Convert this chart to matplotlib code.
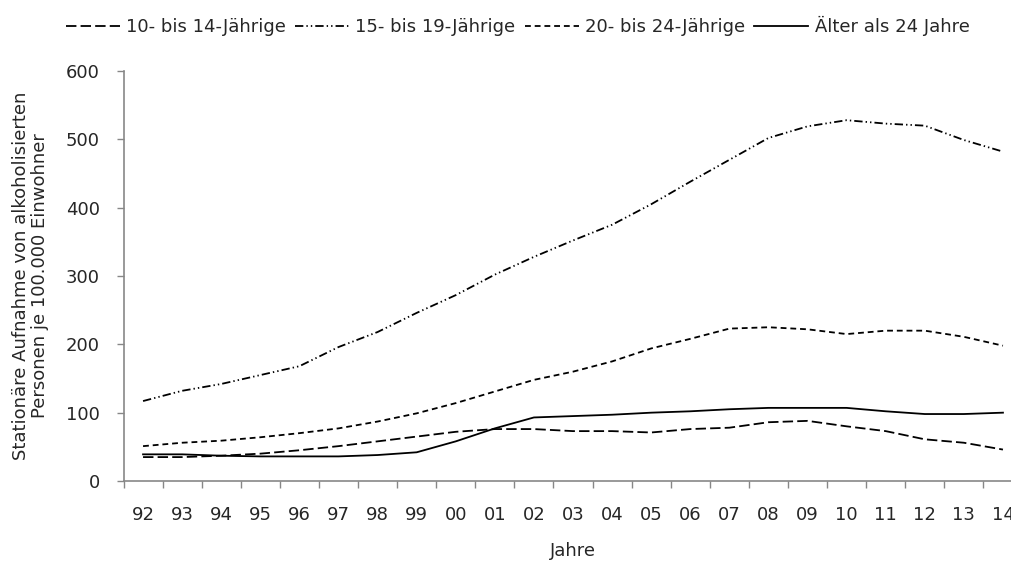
import matplotlib
matplotlib.use("Agg")
import matplotlib.pyplot as plt

plt.rcParams['font.family'] = ['DejaVu Sans']
plt.rcParams['lines.scale_dashes'] = False

years = ["92", "93", "94", "95", "96", "97", "98", "99", "00", "01", "02", "03",
         "04", "05", "06", "07", "08", "09", "10", "11", "12", "13", "14"]
age_10_14 = [35, 35, 37, 40, 45, 51, 58, 65, 72, 76, 76, 73, 73, 71, 76, 78, 86, 88, 80, 73, 61, 56, 46]
age_15_19 = [117, 132, 142, 155, 168, 196, 218, 246, 272, 302, 328, 352, 375, 405, 438, 470, 502, 519, 528, 523, 520, 499, 482]
age_20_24 = [51, 56, 59, 64, 70, 77, 87, 99, 114, 131, 148, 160, 175, 194, 208, 223, 225, 222, 215, 220, 220, 211, 198]
age_over_24 = [39, 39, 37, 36, 36, 36, 38, 42, 58, 77, 93, 95, 97, 100, 102, 105, 107, 107, 107, 102, 98, 98, 100]

series_labels = ["10- bis 14-Jährige", "15- bis 19-Jährige", "20- bis 24-Jährige", "Älter als 24 Jahre"]

text_color = '#262626'
axis_color = '#878787'

fig = plt.figure(figsize=(10.11, 5.62), dpi=100)
ax = fig.add_axes([123.5 / 1011, 81 / 562, 899 / 1011, 410 / 562])

x = list(range(len(years)))
lw = 1.3
ax.plot(x, age_10_14, color='black', lw=lw, dashes=(7.5, 3.0), label=series_labels[0])
ax.plot(x, age_15_19, color='black', lw=lw, dashes=(6.0, 2.2, 1.0, 2.2, 1.0, 2.2), label=series_labels[1])
ax.plot(x, age_20_24, color='black', lw=lw, dashes=(4.2, 2.8), label=series_labels[2])
ax.plot(x, age_over_24, color='black', lw=lw, label=series_labels[3])

ax.set_xlim(-0.5, len(years) - 0.5)
ax.set_ylim(0, 600)
ax.set_yticks([0, 100, 200, 300, 400, 500, 600])

ax.set_xticks([i - 0.5 for i in range(len(years) + 1)])
ax.set_xticklabels([])
ax.set_xticks(x, minor=True)
ax.set_xticklabels(years, minor=True)
ax.tick_params(axis='x', which='minor', length=0, pad=18)
ax.tick_params(axis='x', which='major', length=5, direction='out', color=axis_color, width=1)
ax.tick_params(axis='y', length=5, direction='out', color=axis_color, width=1, pad=12)
ax.tick_params(which='both', labelsize=13, labelcolor=text_color)

for s in ['top', 'right']:
    ax.spines[s].set_visible(False)
for s in ['left', 'bottom']:
    ax.spines[s].set_color(axis_color)
    ax.spines[s].set_linewidth(1.2)

ax.set_xlabel("Jahre", fontsize=13, color=text_color, labelpad=13)
ax.set_ylabel("Stationäre Aufnahme von alkoholisierten\nPersonen je 100.000 Einwohner",
              fontsize=13, color=text_color, linespacing=1.05)
ax.yaxis.set_label_coords((49 - 123.5) / 899, 0.5)

fig.legend(loc='upper center', bbox_to_anchor=(0.512, 1.0), ncol=4, frameon=False,
           fontsize=13, handlelength=3.0, columnspacing=0.5, handletextpad=0.35,
           labelcolor=text_color, borderaxespad=0.5)

fig.savefig("out.png", dpi=100)
